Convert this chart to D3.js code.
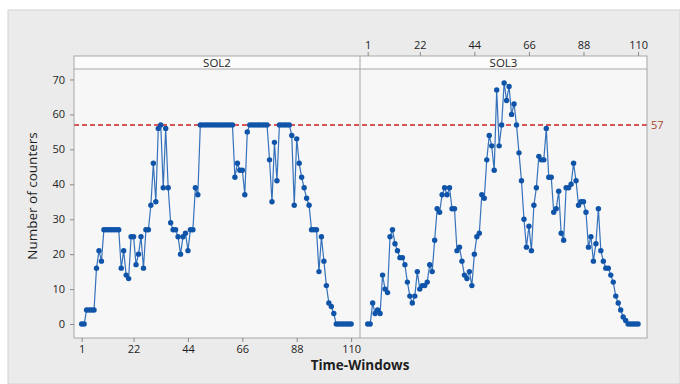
<!DOCTYPE html>
<html>
<head>
<meta charset="utf-8">
<script src="https://cdn.jsdelivr.net/npm/d3@7/dist/d3.min.js"></script>
<style>
  body { margin: 0; background: #ffffff; }
  svg { display: block; }
  text { font-family: "Open Sans", "Noto Sans", sans-serif; }
</style>
</head>
<body>
<svg id="chart" width="680" height="384"></svg>
<script>
// Time windows 1..110 for each solution panel
const panels = ["SOL2", "SOL3"];
const windows = d3.range(1, 111);

// Number of counters per time window
const sol2 = [
  0, 0, 4, 4, 4, 4, 16, 21, 18, 27,
  27, 27, 27, 27, 27, 27, 16, 21, 14, 13,
  25, 25, 17, 20, 25, 16, 27, 27, 34, 46,
  35, 56, 57, 39, 56, 39, 29, 27, 27, 25,
  20, 25, 26, 21, 27, 27, 39, 37, 57, 57,
  57, 57, 57, 57, 57, 57, 57, 57, 57, 57,
  57, 57, 42, 46, 44, 44, 37, 55, 57, 57,
  57, 57, 57, 57, 57, 57, 47, 35, 52, 41,
  57, 57, 57, 57, 57, 54, 34, 53, 46, 42,
  39, 36, 34, 27, 27, 27, 15, 25, 18, 11,
  6, 5, 3, 0, 0, 0, 0, 0, 0, 0
];
const sol3 = [
  0, 0, 6, 3, 4, 3, 14, 10, 9, 25,
  27, 23, 21, 19, 19, 17, 12, 8, 6, 8,
  15, 10, 11, 11, 12, 17, 15, 24, 33, 32,
  37, 39, 37, 39, 33, 33, 21, 22, 18, 14,
  13, 15, 11, 20, 25, 26, 37, 36, 47, 54,
  51, 44, 67, 51, 57, 69, 64, 68, 60, 63,
  57, 49, 41, 30, 22, 28, 21, 34, 39, 48,
  47, 47, 56, 42, 42, 32, 33, 38, 26, 24,
  39, 39, 40, 46, 41, 34, 35, 35, 32, 22,
  25, 18, 23, 33, 21, 18, 16, 16, 14, 12,
  8, 6, 4, 2, 1, 0, 0, 0, 0, 0
];
const seriesByPanel = [sol2, sol3];

const xTicks = [1, 22, 44, 66, 88, 110];
const yTicks = [0, 10, 20, 30, 40, 50, 60, 70];
const referenceValue = 57;

const svg = d3.select("#chart");

// Graph region
svg.append("rect")
  .attr("x", 8).attr("y", 10).attr("width", 672).attr("height", 374)
  .attr("fill", "#ebebeb").attr("stroke", "#d2d2d2");

const plotLeft = 74, plotRight = 647, divider = 360;
const stripTop = 56, stripBottom = 69, plotBottom = 338;

const xScales = [
  d3.scaleLinear().domain([-2.1, 113.6]).range([plotLeft, divider]),
  d3.scaleLinear().domain([-2.1, 113.6]).range([divider, plotRight])
];
const y = d3.scaleLinear().domain([-4, 73]).range([plotBottom, stripBottom]);

// Data region background
svg.append("rect")
  .attr("x", plotLeft).attr("y", stripBottom)
  .attr("width", plotRight - plotLeft).attr("height", plotBottom - stripBottom)
  .attr("fill", "#f7f7f7");

// Strip background
svg.append("rect")
  .attr("x", plotLeft).attr("y", stripTop)
  .attr("width", plotRight - plotLeft).attr("height", stripBottom - stripTop)
  .attr("fill", "#fbfbfb");

// Reference line at 57
svg.append("line")
  .attr("x1", plotLeft).attr("x2", plotRight)
  .attr("y1", y(referenceValue)).attr("y2", y(referenceValue))
  .attr("stroke", "#d01f1f").attr("stroke-width", 1.5)
  .attr("stroke-dasharray", "5,3");

svg.append("text")
  .attr("x", 651).attr("y", y(referenceValue) + 4)
  .attr("font-size", 11).attr("fill", "#a9482c")
  .text(referenceValue);

// Series per panel
panels.forEach((name, p) => {
  const x = xScales[p];
  const values = seriesByPanel[p];
  const pts = windows.map((w, i) => ({ w, v: values[i] }));
  const g = svg.append("g");

  g.append("path")
    .datum(pts)
    .attr("fill", "none")
    .attr("stroke", "#3572bb")
    .attr("stroke-width", 1.2)
    .attr("d", d3.line().x(d => x(d.w)).y(d => y(d.v)));

  g.selectAll("circle")
    .data(pts)
    .join("circle")
    .attr("cx", d => x(d.w))
    .attr("cy", d => y(d.v))
    .attr("r", 2.7)
    .attr("fill", "#0f54a8");

  // Strip label
  svg.append("text")
    .attr("x", (x.range()[0] + x.range()[1]) / 2)
    .attr("y", stripBottom - 2.5)
    .attr("text-anchor", "middle")
    .attr("font-size", 11.5).attr("fill", "#222")
    .text(name);
});

// Frames
svg.append("rect")
  .attr("x", plotLeft).attr("y", stripTop)
  .attr("width", plotRight - plotLeft).attr("height", plotBottom - stripTop)
  .attr("fill", "none").attr("stroke", "#a8a8a8");
svg.append("line")
  .attr("x1", plotLeft).attr("x2", plotRight)
  .attr("y1", stripBottom).attr("y2", stripBottom)
  .attr("stroke", "#a8a8a8");
svg.append("line")
  .attr("x1", divider).attr("x2", divider)
  .attr("y1", stripTop).attr("y2", plotBottom)
  .attr("stroke", "#a8a8a8");

function styleAxis(g) {
  g.select(".domain").remove();
  g.selectAll(".tick line").attr("stroke", "#8a8a8a");
  g.selectAll(".tick text")
    .attr("font-size", 11).attr("fill", "#1e1e1e")
    .attr("font-family", "'Open Sans', 'Noto Sans', sans-serif");
}

// Y axis
svg.append("g")
  .attr("transform", `translate(${plotLeft},0)`)
  .call(d3.axisLeft(y).tickValues(yTicks).tickSize(4).tickPadding(5))
  .call(styleAxis);

// Bottom axis on the first panel
svg.append("g")
  .attr("transform", `translate(0,${plotBottom})`)
  .call(d3.axisBottom(xScales[0]).tickValues(xTicks).tickSize(4).tickPadding(3))
  .call(styleAxis);

// Top axis on the second panel
svg.append("g")
  .attr("transform", `translate(0,${stripTop})`)
  .call(d3.axisTop(xScales[1]).tickValues(xTicks).tickSize(4).tickPadding(3))
  .call(styleAxis);

// Axis titles
svg.append("text")
  .attr("x", 360).attr("y", 370)
  .attr("text-anchor", "middle")
  .attr("font-size", 13.5).attr("font-weight", "bold").attr("fill", "#1e1e1e")
  .text("Time-Windows");

svg.append("text")
  .attr("transform", "translate(37,196) rotate(-90)")
  .attr("text-anchor", "middle")
  .attr("font-size", 13.5).attr("fill", "#1e1e1e")
  .text("Number of counters");
</script>
</body>
</html>
